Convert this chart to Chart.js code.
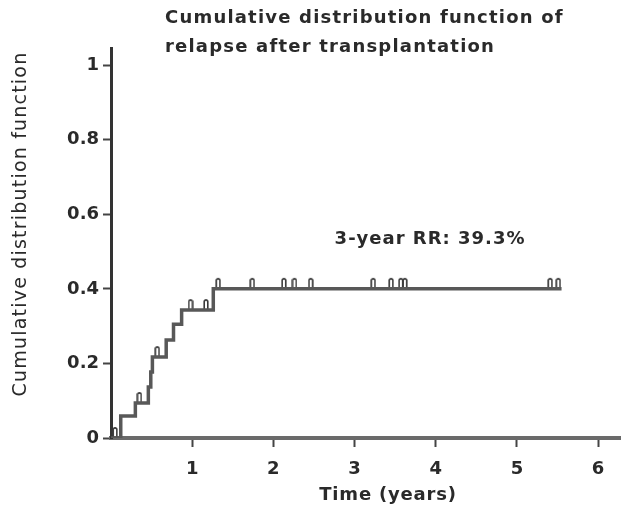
<!DOCTYPE html>
<html>
<head>
<meta charset="utf-8">
<script src="https://cdn.jsdelivr.net/npm/chart.js@4.4.1/dist/chart.umd.min.js"></script>
<style>
  body { margin: 0; background: #fff; }
</style>
</head>
<body>
<canvas id="cdfChart" width="627" height="519"></canvas>
<script>
// step curve (time in years, cumulative relapse)
var stepTimes  = [0, 0.12, 0.30, 0.46, 0.49, 0.51, 0.68, 0.77, 0.87, 1.26, 5.55];
var stepValues = [0, 0.059, 0.094, 0.137, 0.177, 0.217, 0.263, 0.305, 0.343, 0.40, 0.40];

// censored patients
var censorTimes  = [0.05, 0.35, 0.57, 0.98, 1.17, 1.32, 1.74, 2.13, 2.26, 2.46, 3.23, 3.45, 3.57, 3.62, 5.41, 5.51];
var censorValues = [0, 0.094, 0.217, 0.343, 0.343, 0.40, 0.40, 0.40, 0.40, 0.40, 0.40, 0.40, 0.40, 0.40, 0.40, 0.40];

var xTicks = [1, 2, 3, 4, 5, 6];
var yTicks = [0, 0.2, 0.4, 0.6, 0.8, 1];

var titleLines = ['Cumulative distribution function of', 'relapse after transplantation'];
var yTitle = 'Cumulative distribution function';
var xTitle = 'Time (years)';
var note = '3-year RR: 39.3%';

var FONT = '"DejaVu Sans", sans-serif';
var INK = '#2a2a2a';

// small hollow bar used as the censor mark, sits above the line
function makeCensorMark() {
  var c = document.createElement('canvas');
  c.width = 6; c.height = 24;
  var g = c.getContext('2d');
  g.strokeStyle = '#3a3a3a';
  g.lineWidth = 1.6;
  g.beginPath();
  g.moveTo(1.2, 12); g.lineTo(1.2, 3); g.quadraticCurveTo(3, 0.8, 4.8, 3); g.lineTo(4.8, 12);
  g.stroke();
  return c;
}

var curve = stepTimes.map(function (t, i) { return { x: t, y: stepValues[i] }; });
var censors = censorTimes.map(function (t, i) { return { x: t, y: censorValues[i] }; });

var textPlugin = {
  id: 'texts',
  afterDraw: function (chart) {
    var ctx = chart.ctx;
    var xs = chart.scales.x, ys = chart.scales.y;
    ctx.save();
    ctx.fillStyle = INK;

    ctx.font = 'bold 18px ' + FONT;
    ctx.letterSpacing = '1.2px';
    ctx.textAlign = 'left';
    ctx.textBaseline = 'middle';
    ctx.fillText(titleLines[0], 165, 18);
    ctx.fillText(titleLines[1], 165, 47);

    ctx.letterSpacing = '1px';
    ctx.textAlign = 'center';
    ctx.fillText(note, xs.getPixelForValue(3.93), ys.getPixelForValue(0.534));

    ctx.letterSpacing = '0.8px';
    ctx.fillText(xTitle, 388, 495);

    ctx.font = '19px ' + FONT;
    ctx.letterSpacing = '1.2px';
    ctx.translate(21, 224);
    ctx.rotate(-Math.PI / 2);
    ctx.fillText(yTitle, 0, 0);
    ctx.restore();
  }
};

var ctx = document.getElementById('cdfChart').getContext('2d');
var cdfChart = new Chart(ctx, {
  type: 'line',
  data: {
    datasets: [{
      label: 'CDF',
      data: curve,
      stepped: true,
      borderColor: '#585858',
      borderWidth: 3.5,
      pointRadius: 0,
      fill: false
    }, {
      label: 'censored',
      data: censors,
      showLine: false,
      pointStyle: makeCensorMark(),
      pointRadius: 6
    }]
  },
  options: {
    responsive: false,
    animation: false,
    layout: { padding: { top: 48, right: 2, left: 0, bottom: 0 } },
    plugins: { legend: { display: false }, tooltip: { enabled: false } },
    scales: {
      x: {
        type: 'linear',
        min: 0,
        max: 6.27,
        afterFit: function (s) { s.height = 81; },
        afterBuildTicks: function (s) { s.ticks = xTicks.map(function (v) { return { value: v }; }); },
        border: { color: '#6a6a6a', width: 4 },
        grid: { drawOnChartArea: false, tickLength: 9, tickColor: '#444', tickWidth: 2 },
        ticks: { color: INK, font: { family: FONT, size: 18, weight: 'bold' }, padding: 12,
                 callback: function (v) { return String(v); } }
      },
      y: {
        min: 0,
        max: 1.046,
        afterFit: function (s) { s.width = 111; },
        afterBuildTicks: function (s) { s.ticks = yTicks.map(function (v) { return { value: v }; }); },
        border: { color: '#333', width: 3 },
        grid: { drawOnChartArea: false, tickLength: 8, tickColor: '#444', tickWidth: 2 },
        ticks: { color: INK, font: { family: FONT, size: 18, weight: 'bold' }, padding: 4,
                 callback: function (v) { return String(v); } }
      }
    }
  },
  plugins: [textPlugin]
});
</script>
</body>
</html>
